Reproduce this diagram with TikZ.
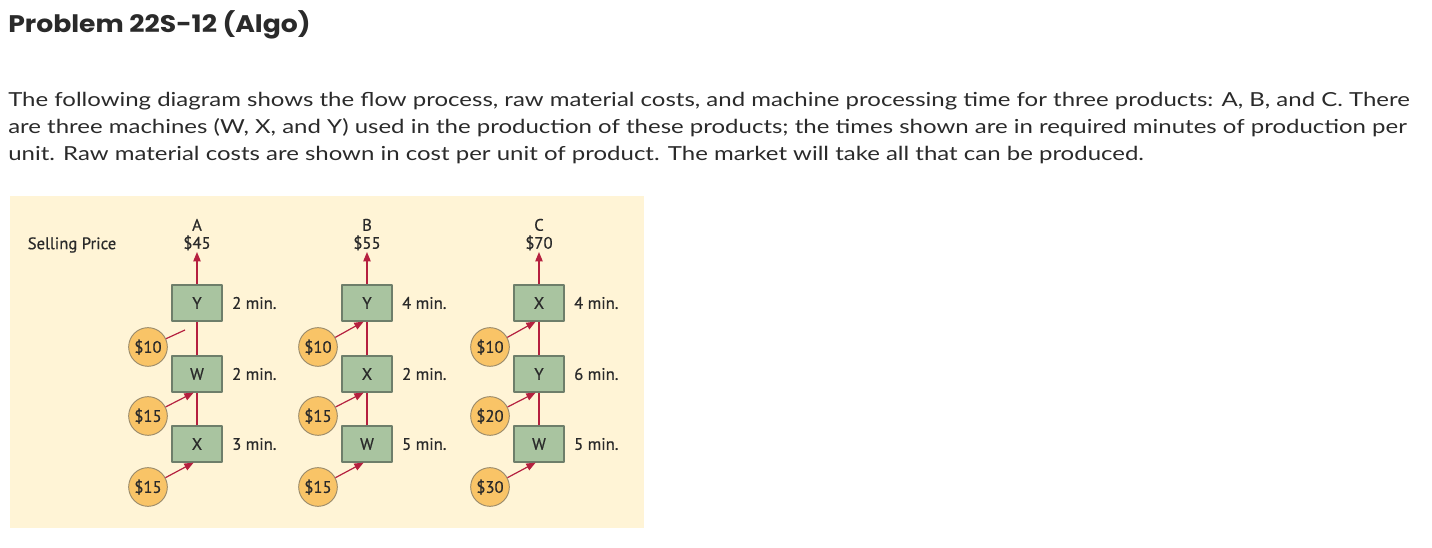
\documentclass[tikz,border=0pt]{standalone}
\usepackage{fontspec}
\setmainfont{Lato}[FakeStretch=1.24]
\newfontfamily\headfont{Poppins}[FakeStretch=1.11]
\newfontfamily\figfont{PT Sans}[FakeBold=0.6]
\usetikzlibrary{arrows.meta}
\definecolor{paper}{HTML}{FFF4D6}
\definecolor{mach}{HTML}{A9C4A0}
\definecolor{machline}{HTML}{6E7E6A}
\definecolor{cost}{HTML}{F9C467}
\definecolor{costline}{HTML}{9A8A6A}
\definecolor{flow}{HTML}{B5203F}
\definecolor{ink}{HTML}{2A2A2A}
\tikzset{
  figtext/.style={font=\figfont\fontsize{12.5}{13.5}\selectfont, text=ink},
  bodytext/.style={anchor=base west, inner sep=0pt, text=ink, font=\fontsize{14.5}{20}\selectfont},
  machine/.style={figtext, draw=machline, fill=mach, line width=0.9pt, minimum width=37.5pt, minimum height=27pt, inner sep=0pt},
  costcirc/.style={figtext, circle, draw=costline, fill=cost, line width=0.7pt, minimum size=29pt, inner sep=0pt},
  mins/.style={figtext, anchor=west, inner sep=0pt},
  price/.style={figtext, anchor=south, align=center, inner sep=1pt},
  flowline/.style={draw=flow, line width=0.9pt},
  flowarrow/.style={flowline, -{Triangle[length=7pt,width=5.5pt]}}
}
\begin{document}
\begin{tikzpicture}[x=0.75pt, y=-0.75pt, line join=round]
  \useasboundingbox (0,0) rectangle (1432,548);
  % heading and problem text
  \node[anchor=base west, inner sep=0pt, text=ink, font=\headfont\bfseries\fontsize{18}{22}\selectfont] (title) at (8,33) {Problem 22S-12 (Algo)};
  \node[bodytext] (line1) at (8,107) {The following diagram shows the flow process, raw material costs, and machine processing time for three products: A, B, and C. There};
  \node[bodytext] (line2) at (8,134) {are three machines (W, X, and Y) used in the production of these products; the times shown are in required minutes of production per};
  \node[bodytext] (line3) at (8,161) {unit. Raw material costs are shown in cost per unit of product. The market will take all that can be produced.};
  % diagram
  \fill[paper] (10,196) rectangle (644,528);
  \node[figtext] (sell) at (72,245) {Selling Price};
  \foreach \c/\cx/\pr/\ma/\ta/\mb/\tb/\mc/\tc/\ra/\rb/\rc in
    {A/197/45/Y/2/W/2/X/3/10/15/15, B/367/55/Y/4/X/2/W/5/10/15/15, C/539/70/X/4/Y/6/W/5/10/20/30}
  {
    \node[machine] (top\c) at (\cx,303) {\ma};
    \node[machine] (mid\c) at (\cx,374) {\mb};
    \node[machine] (bot\c) at (\cx,444) {\mc};
    \node[mins] (ttop\c) at ([xshift=7pt]top\c.east) {\ta\ min.};
    \node[mins] (tmid\c) at ([xshift=7pt]mid\c.east) {\tb\ min.};
    \node[mins] (tbot\c) at ([xshift=7pt]bot\c.east) {\tc\ min.};
    \node[price] (price\c) at (\cx,252) {\c\\\$\pr};
    \draw[flowarrow] (top\c) -- (price\c);
    \draw[flowline] (mid\c) -- (top\c);
    \draw[flowline] (bot\c) -- (mid\c);
    \node[costcirc] (ra\c) at (\cx-49,347) {\$\ra};
    \node[costcirc] (rb\c) at (\cx-49,416) {\$\rb};
    \node[costcirc] (rc\c) at (\cx-49,487) {\$\rc};
    \draw[flowarrow] (rb\c) -- ([xshift=-2.5pt]mid\c.south);
    \draw[flowarrow] (rc\c) -- ([xshift=-2.5pt]bot\c.south);
  }
  \foreach \c in {B,C}
    \draw[flowarrow] (ra\c) -- ([xshift=-2.5pt]top\c.south);
  % the first input of A stops short of the line
  \coordinate (gapA) at (185,330);
  \draw[flowline] (raA) -- (gapA);
\end{tikzpicture}
\end{document}
